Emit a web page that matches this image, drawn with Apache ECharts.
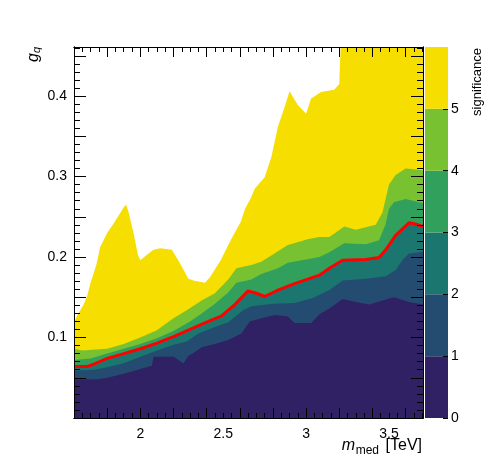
<!DOCTYPE html>
<html><head><meta charset="utf-8">
<script src="https://cdn.jsdelivr.net/npm/echarts@6/dist/echarts.min.js"></script>
<style>html,body{margin:0;padding:0;background:#fff}#c{width:498px;height:476px}</style>
</head><body><div id="c"></div>
<script>
// significance levels and colours (colour bar)
const zLevels = [0, 1, 2, 3, 4, 5, 6];
const zLabels = [0, 1, 2, 3, 4, 5];
const levelColors = ['#302165', '#244c71', '#1c7670', '#30a05c', '#78c130', '#f5de00'];

// axis ticks / labels
const xLabelVals = [2, 2.5, 3, 3.5];
const yLabelVals = [0.1, 0.2, 0.3, 0.4];

// contour edges: [m_med (TeV), g_q]
const edgeSig1 = [[1.6,0.048],[1.74,0.048],[1.8,0.050],[1.9,0.055],[2.0,0.061],[2.07,0.065],[2.08,0.076],[2.2,0.076],[2.23,0.072],[2.26,0.068],[2.29,0.077],[2.33,0.082],[2.37,0.088],[2.45,0.092],[2.53,0.097],[2.61,0.105],[2.66,0.120],[2.73,0.124],[2.81,0.128],[2.89,0.126],[2.93,0.118],[3.03,0.118],[3.08,0.129],[3.14,0.136],[3.22,0.148],[3.30,0.144],[3.38,0.141],[3.46,0.146],[3.53,0.150],[3.62,0.144],[3.705,0.141]];
const edgeSig2 = [[1.6,0.059],[1.72,0.060],[1.8,0.063],[1.9,0.068],[2.0,0.076],[2.1,0.084],[2.2,0.091],[2.28,0.095],[2.35,0.105],[2.45,0.113],[2.53,0.119],[2.62,0.134],[2.67,0.139],[2.8,0.142],[2.93,0.143],[3.04,0.149],[3.14,0.159],[3.22,0.171],[3.36,0.173],[3.48,0.176],[3.54,0.184],[3.58,0.196],[3.62,0.2045],[3.705,0.2065]];
const edgeSig3 = [[1.6,0.064],[1.68,0.064],[1.72,0.067],[1.8,0.074],[1.9,0.080],[2.0,0.086],[2.1,0.093],[2.2,0.101],[2.3,0.110],[2.4,0.119],[2.49,0.127],[2.57,0.141],[2.65,0.158],[2.70,0.155],[2.75,0.151],[2.83,0.159],[2.93,0.167],[3.01,0.1725],[3.08,0.1775],[3.14,0.186],[3.22,0.196],[3.36,0.197],[3.44,0.1995],[3.48,0.209],[3.54,0.227],[3.62,0.2425],[3.66,0.241],[3.705,0.238]];
const edgeSig4 = [[1.6,0.072],[1.7,0.074],[1.8,0.080],[1.9,0.086],[2.0,0.092],[2.1,0.099],[2.2,0.108],[2.3,0.120],[2.37,0.130],[2.45,0.142],[2.53,0.156],[2.58,0.168],[2.67,0.172],[2.73,0.179],[2.83,0.186],[2.89,0.193],[3.0,0.197],[3.08,0.200],[3.14,0.206],[3.23,0.217],[3.36,0.216],[3.44,0.221],[3.48,0.241],[3.50,0.260],[3.53,0.268],[3.60,0.272],[3.705,0.267]];
const edgeSig5 = [[1.6,0.086],[1.65,0.084],[1.8,0.086],[1.9,0.092],[2.0,0.100],[2.1,0.109],[2.2,0.124],[2.28,0.134],[2.37,0.146],[2.45,0.155],[2.53,0.172],[2.58,0.186],[2.67,0.190],[2.73,0.194],[2.79,0.202],[2.89,0.215],[3.01,0.222],[3.08,0.225],[3.14,0.225],[3.23,0.238],[3.30,0.234],[3.42,0.240],[3.46,0.255],[3.50,0.290],[3.54,0.302],[3.60,0.310],[3.705,0.308]];
const edgeTop = [[1.6,0.119],[1.626,0.130],[1.656,0.140],[1.68,0.152],[1.70,0.168],[1.737,0.192],[1.757,0.212],[1.80,0.230],[1.84,0.242],[1.877,0.254],[1.90,0.262],[1.915,0.265],[1.93,0.255],[1.96,0.229],[1.985,0.203],[2.0,0.196],[2.04,0.203],[2.08,0.209],[2.12,0.211],[2.19,0.209],[2.24,0.192],[2.29,0.173],[2.32,0.171],[2.39,0.168],[2.42,0.175],[2.485,0.196],[2.545,0.221],[2.606,0.244],[2.632,0.260],[2.666,0.273],[2.69,0.285],[2.75,0.299],[2.79,0.324],[2.83,0.362],[2.87,0.386],[2.90,0.406],[2.95,0.389],[3.0,0.378],[3.03,0.397],[3.09,0.405],[3.17,0.408],[3.20,0.415],[3.215,0.5],[3.705,0.5]];

const X_MIN = 1.6, X_MAX = 3.705, Y_MIN = 0, Y_MAX = 0.461;
const FONT = "'Liberation Sans', Arial, sans-serif";

function range(a, b, s) { const out = []; for (let v = a; v <= b + 1e-9; v += s) out.push(+v.toFixed(4)); return out; }
const xMajor = range(1.8, 3.6, 0.2);
const xMinor = range(1.6, 3.7, 0.05);
const yMajor = range(0.05, 0.45, 0.05);
const yMinor = range(0, 0.46, 0.01);

function xAx(pos, ticks, len, labels) {
  return { type: 'value', gridIndex: 0, position: pos, min: X_MIN, max: X_MAX, z: 10,
    axisLine: { show: true, onZero: false, lineStyle: { color: '#000', width: 1 } },
    axisTick: { show: true, inside: true, length: len, customValues: ticks, lineStyle: { color: '#000', width: 1 } },
    axisLabel: labels ? { show: true, customValues: labels, color: '#000', fontSize: 14, fontFamily: FONT, margin: 9 } : { show: false },
    splitLine: { show: false } };
}
function yAx(pos, ticks, len, labels) {
  return { type: 'value', gridIndex: 0, position: pos, min: Y_MIN, max: Y_MAX, z: 10,
    axisLine: { show: true, onZero: false, lineStyle: { color: '#000', width: 1 } },
    axisTick: { show: true, inside: true, length: len, customValues: ticks, lineStyle: { color: '#000', width: 1 } },
    axisLabel: labels ? { show: true, customValues: labels, color: '#000', fontSize: 14, fontFamily: FONT, margin: 7 } : { show: false },
    splitLine: { show: false } };
}

function band(data, color) {
  return { type: 'line', xAxisIndex: 0, yAxisIndex: 0, data, symbol: 'none', showSymbol: false,
    lineStyle: { width: 0 }, areaStyle: { color, opacity: 1, origin: 'start' }, silent: true, clip: true, z: 2 };
}

const edges = [edgeTop, edgeSig5, edgeSig4, edgeSig3, edgeSig2, edgeSig1];
const bandColors = [levelColors[5], levelColors[4], levelColors[3], levelColors[2], levelColors[1], levelColors[0]];
const series = edges.map((e, i) => band(e, bandColors[i]));
series.push({ type: 'line', xAxisIndex: 0, yAxisIndex: 0, data: edgeSig3, symbol: 'none', showSymbol: false,
  lineStyle: { width: 3, color: '#ff0000' }, silent: true, clip: true, z: 3 });
for (let i = 0; i < zLevels.length - 1; i++) {
  series.push({ type: 'bar', xAxisIndex: 4, yAxisIndex: 4, stack: 'cb', data: [zLevels[i + 1] - zLevels[i]],
    barWidth: '100%', itemStyle: { color: levelColors[i] }, silent: true, z: 2 });
}

const chart = echarts.init(document.getElementById('c'), null, { renderer: 'canvas' });
chart.setOption({
  animation: false,
  backgroundColor: '#fff',
  grid: [
    { left: 74, top: 47, width: 349, height: 371, containLabel: false },
    { left: 425, top: 47, width: 23, height: 371, containLabel: false }
  ],
  xAxis: [
    xAx('bottom', xMajor, 10, xLabelVals),
    xAx('bottom', xMinor, 5, null),
    xAx('top', xMajor, 10, null),
    xAx('top', xMinor, 5, null),
    { type: 'category', gridIndex: 1, data: ['z'], show: false }
  ],
  yAxis: [
    yAx('left', yMajor, 12, yLabelVals),
    yAx('left', yMinor, 6, null),
    yAx('right', yMajor, 12, null),
    yAx('right', yMinor, 6, null),
    { type: 'value', gridIndex: 1, position: 'right', min: 0, max: 6, z: 10,
      axisLine: { show: false },
      axisTick: { show: true, inside: true, length: 5, customValues: zLabels, lineStyle: { color: '#000' } },
      axisLabel: { show: true, customValues: zLabels, color: '#000', fontSize: 14, fontFamily: FONT, margin: 3 },
      splitLine: { show: false } }
  ],
  series,
  graphic: [
    { type: 'text', x: 34, y: 47, rotation: Math.PI / 2, z: 10,
      style: { text: '{g|g}{q|q}', align: 'right', verticalAlign: 'middle', fill: '#000',
        rich: { g: { fontSize: 16, fontStyle: 'italic', fontFamily: FONT }, q: { fontSize: 11, fontStyle: 'italic', fontFamily: FONT, padding: [6, 0, 0, 0] } } } },
    { type: 'text', x: 477, y: 48, rotation: Math.PI / 2, z: 10,
      style: { text: 'significance', align: 'right', verticalAlign: 'middle', fill: '#000', fontSize: 13, fontFamily: FONT } },
    { type: 'text', x: 422, y: 446, z: 10,
      style: { text: '[TeV]', align: 'right', verticalAlign: 'middle', fill: '#000', fontSize: 16, fontFamily: FONT } },
    { type: 'text', x: 379, y: 451, z: 10,
      style: { text: 'med', align: 'right', verticalAlign: 'middle', fill: '#000', fontSize: 12, fontFamily: FONT } },
    { type: 'text', x: 355, y: 446, z: 10,
      style: { text: 'm', align: 'right', verticalAlign: 'middle', fill: '#000', fontSize: 16, fontStyle: 'italic', fontFamily: FONT } }
  ]
});
</script>
</body></html>
